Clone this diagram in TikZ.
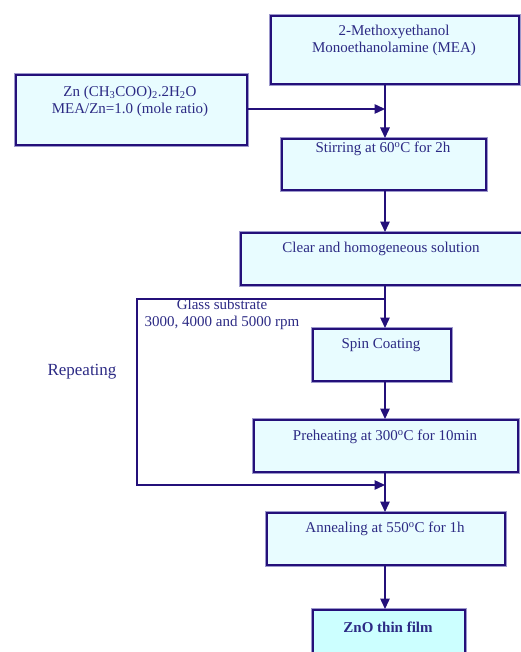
\documentclass[tikz,border=0pt]{standalone}
\usepackage{fontspec}
\setmainfont{Liberation Serif}
\usepackage[dvipsnames]{xcolor}
\usetikzlibrary{arrows, arrows.meta, positioning}

\definecolor{navyline}{HTML}{24107A}
\definecolor{navytext}{HTML}{2C2A84}
\definecolor{rimlav}{HTML}{9C98CC}
\definecolor{boxfill}{HTML}{E8FCFF}
\definecolor{endfill}{HTML}{CCFFFF}

\begin{document}
\begin{tikzpicture}[x=1pt, y=-1pt,
    box/.style={draw=navyline, line width=2pt, fill=boxfill, anchor=north west,
      inner sep=0pt, preaction={draw=rimlav, line width=4.6pt}},
    txt/.style={text=navytext, align=center, inner sep=0pt,
      font=\fontsize{15}{17}\selectfont},
    arr/.style={navyline, line width=1.4pt, -{Triangle[length=10.5pt,width=9.5pt]}}]
\useasboundingbox (0,0) rectangle (520,652);
%\draw[step=20,gray,very thin] (0,0) grid (520,652); %background grid
\coordinate (spine) at (385,0);
%---------------------------------------------------
\node[box, minimum width=248, minimum height=68] (mix) at (270,15) {};
\node[txt] (mixtxt) at (394,40) {2-Methoxyethanol\\Monoethanolamine (MEA)};
\node[box, minimum width=231, minimum height=70] (zn) at (15,74) {};
\node[txt] (zntxt) at (130,101) {Zn (CH\textsubscript{3}COO)\textsubscript{2}.2H\textsubscript{2}O\\MEA/Zn=1.0 (mole ratio)};
\node[box, minimum width=204, minimum height=51] (stir) at (281,138) {};
\node[txt] (stirtxt) at (383,149) {Stirring at 60\textsuperscript{o}C for 2h};
\node[box, minimum width=290, minimum height=52] (clear) at (240,232) {};
\node[txt] (cleartxt) at (381,249) {Clear and homogeneous solution};
%---------------------------------------------------
\node[box, minimum width=138, minimum height=52] (spin) at (312,328) {};
\node[txt] (spintxt) at (381,345) {Spin Coating};
\node[box, minimum width=264, minimum height=52] (pre) at (253,419) {};
\node[txt] (pretxt) at (385,437) {Preheating at 300\textsuperscript{o}C for 10min};
\node[box, minimum width=238, minimum height=52] (ann) at (266,512) {};
\node[txt] (anntxt) at (385,529) {Annealing at 550\textsuperscript{o}C for 1h};
\node[box, fill=endfill, minimum width=152, minimum height=60] (zno) at (312,609) {};
\node[txt, font=\fontsize{15}{17}\selectfont\bfseries] (znotxt) at (388,627) {ZnO thin film};
%---------------------------------------------------
\node[txt] (glass) at (222,304) {Glass substrate};
\node[txt] (rpm) at (222,323) {3000, 4000 and 5000 rpm};
\node[txt, font=\fontsize{17}{19}\selectfont] (rep) at (82,372) {Repeating};
%---------------------------------------------------
\coordinate (mixin) at (385,109);
\coordinate (loopout) at (385,299);
\coordinate (loopin) at (385,485);
\draw[arr] (mix.south -| spine) -- (stir.north -| spine);
\draw[arr] (zn.east |- mixin) -- (mixin);
\draw[arr] (stir.south -| spine) -- (clear.north -| spine);
\draw[arr] (clear.south -| spine) -- (spin.north -| spine);
\draw[arr] (spin.south -| spine) -- (pre.north -| spine);
\draw[arr] (pre.south -| spine) -- (ann.north -| spine);
\draw[arr] (ann.south -| spine) -- (zno.north -| spine);
\draw[arr] (loopout) -- (137,299) -- (137,485) -- (loopin);
\end{tikzpicture}
\end{document}
